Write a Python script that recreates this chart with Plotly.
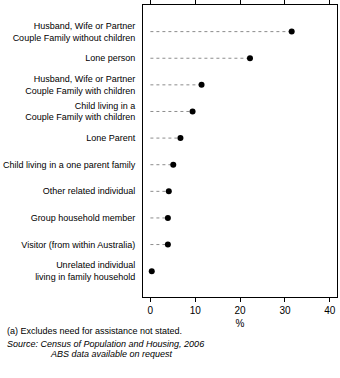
import plotly.graph_objects as go

categories = [
    "Husband, Wife or Partner<br>Couple Family without children",
    "Lone person",
    "Husband, Wife or Partner<br>Couple Family with children",
    "Child living in a<br>Couple Family with children",
    "Lone Parent",
    "Child living in a one parent family",
    "Other related individual",
    "Group household member",
    "Visitor (from within Australia)",
    "Unrelated individual<br>living in family household",
]
values = [31.5, 22.2, 11.4, 9.4, 6.7, 5.1, 4.1, 3.9, 3.9, 0.3]
x_ticks = [0, 10, 20, 30, 40]

FONT = "Liberation Sans Narrow, Arial Narrow, Liberation Sans, Arial, sans-serif"

# dashed leader lines from zero to each value
lx, ly = [], []
for c, v in zip(categories, values):
    lx += [0, v, None]
    ly += [c, c, None]

fig = go.Figure()
fig.add_trace(go.Scatter(
    x=lx, y=ly, mode="lines",
    line=dict(color="#8c8c8c", width=1, dash="3px,3px"),
    hoverinfo="skip", showlegend=False,
))
fig.add_trace(go.Scatter(
    x=values, y=categories, mode="markers",
    marker=dict(symbol="circle", size=6, color="black"),
    showlegend=False,
))

fig.update_layout(
    width=340, height=378,
    margin=dict(l=143, r=3, t=5, b=81),
    paper_bgcolor="white", plot_bgcolor="white",
    font=dict(family=FONT, size=10, color="black"),
    xaxis=dict(
        range=[-1.65, 41.6], tickvals=x_ticks, ticks="outside", ticklen=4,
        tickcolor="black", showline=True, linecolor="black", linewidth=1,
        mirror="ticks", showgrid=False, zeroline=False, automargin=False,
        title=dict(text="%", standoff=4, font=dict(size=10)),
        tickfont=dict(size=10),
    ),
    yaxis=dict(
        categoryorder="array", categoryarray=categories,
        autorange=False, range=[9.97, -1.0], automargin=False,
        showline=True, linecolor="black", linewidth=1, mirror=True,
        showgrid=False, zeroline=False, ticks="", ticklabelstandoff=5,
        tickfont=dict(size=9),
    ),
)

def py(pix):
    return (296.7 - pix) / 291.7

notes = [
    (5, 331, "(a) Excludes need for assistance not stated."),
    (5, 344, "<i>Source: Census of Population and Housing, 2006</i>"),
    (48, 353.5, "<i>ABS data available on request</i>"),
]
for xp, yp, t in notes:
    fig.add_annotation(
        text=t, xref="paper", yref="paper",
        x=(xp - 143) / 193.7, y=py(yp), xanchor="left", yanchor="middle",
        showarrow=False, font=dict(size=9, family=FONT),
    )

fig.write_html("out.html")
